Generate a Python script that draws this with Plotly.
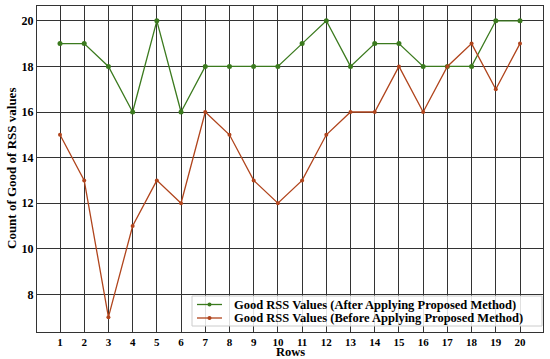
import plotly.graph_objects as go

rows = list(range(1, 21))
after_vals = [19, 19, 18, 16, 20, 16, 18, 18, 18, 18, 19, 20, 18, 19, 19, 18, 18, 18, 20, 20]
before_vals = [15, 13, 7, 11, 13, 12, 16, 15, 13, 12, 13, 15, 16, 16, 18, 16, 18, 19, 17, 19]
names = ["Good RSS Values (After Applying Proposed Method)",
         "Good RSS Values (Before Applying Proposed Method)"]
colors = ["#3b7a1e", "#b0441c"]
y_ticks = [8, 10, 12, 14, 16, 18, 20]

FONT = "Liberation Serif, Times New Roman, serif"
W, H = 550, 359
ML, MR, MT, MB = 37, 7, 6, 27
PW, PH = W - ML - MR, H - MT - MB


def px_x(px):
    return (px - ML) / PW


def px_y(py):
    return (H - MB - py) / PH


fig = go.Figure()
for vals, name, col, ms in [(after_vals, names[0], colors[0], 5), (before_vals, names[1], colors[1], 4)]:
    fig.add_trace(go.Scatter(x=rows, y=vals, mode="lines+markers", name=name, showlegend=False,
                             line=dict(color=col, width=1.3),
                             marker=dict(color=col, size=ms)))

# legend box drawn manually (matplotlib-style compact legend)
shapes = [dict(type="rect", xref="paper", yref="paper",
               x0=px_x(192), x1=px_x(542), y0=px_y(326), y1=px_y(296),
               fillcolor="rgba(255,255,255,0.85)", line=dict(color="#cccccc", width=1), layer="above")]
annotations = []
for i, (name, col) in enumerate(zip(names, colors)):
    yy = px_y(304.5 + 13.5 * i)
    shapes.append(dict(type="line", xref="paper", yref="paper", x0=px_x(197), x1=px_x(222),
                       y0=yy, y1=yy, line=dict(color=col, width=1.3), layer="above"))
    shapes.append(dict(type="circle", xref="paper", yref="paper", xsizemode="pixel", ysizemode="pixel",
                       xanchor=px_x(209.5), yanchor=yy, x0=-2, x1=2, y0=-2, y1=2,
                       fillcolor=col, line=dict(color=col, width=0), layer="above"))
    annotations.append(dict(text=f"<b>{name}</b>", x=px_x(232), y=yy, xref="paper", yref="paper",
                            xanchor="left", yanchor="middle", showarrow=False,
                            font=dict(family=FONT, size=12.5, color="black")))

annotations += [
    dict(text="<b>Rows</b>", x=0.5, y=px_y(352), xref="paper", yref="paper",
         xanchor="center", yanchor="middle", showarrow=False,
         font=dict(family=FONT, size=12.5, color="black")),
    dict(text="<b>Count of Good of RSS values</b>", x=px_x(11), y=0.5, xref="paper", yref="paper",
         xanchor="center", yanchor="middle", showarrow=False, textangle=-90,
         font=dict(family=FONT, size=13, color="black")),
]

fig.update_layout(
    width=W, height=H,
    margin=dict(l=ML, r=MR, t=MT, b=MB),
    paper_bgcolor="white", plot_bgcolor="white",
    font=dict(family=FONT, size=12, color="black"),
    showlegend=False,
    shapes=shapes, annotations=annotations,
)
fig.update_xaxes(range=[0.05, 20.95], tickmode="array", tickvals=rows,
                 ticktext=[f"<b>{r}</b>" for r in rows],
                 showgrid=True, gridcolor="#333333", gridwidth=1,
                 showline=True, linecolor="#333333", linewidth=1, mirror=True,
                 ticks="outside", ticklen=0,
                 zeroline=False, tickfont=dict(size=11))
fig.update_yaxes(range=[6.35, 20.65], tickmode="array", tickvals=y_ticks,
                 ticktext=[f"<b>{t}</b>" for t in y_ticks],
                 showgrid=True, gridcolor="#333333", gridwidth=1,
                 showline=True, linecolor="#333333", linewidth=1, mirror=True,
                 ticks="outside", ticklen=0,
                 zeroline=False, tickfont=dict(size=12))

fig.write_html("out.html", config={"displayModeBar": False},
               post_script="document.body.style.margin='0';document.body.style.padding='0';")
